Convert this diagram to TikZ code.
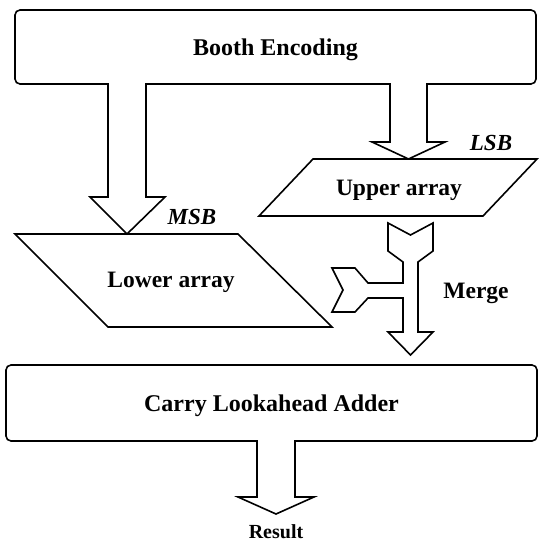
\documentclass[tikz,border=0pt]{standalone}
\usepackage{fontspec}
\setmainfont{Liberation Serif}
\begin{document}
\begin{tikzpicture}[x=1pt,y=-1pt,
  line width=1.6pt, line join=miter,
  blk/.style={draw, fill=white, rounded corners=5pt, inner sep=0pt, text depth=0pt, font=\bfseries\fontsize{24}{26}\selectfont},
  lbl/.style={inner sep=0pt, font=\bfseries\fontsize{23.5}{25}\selectfont},
  ilbl/.style={inner sep=0pt, font=\bfseries\itshape\fontsize{23}{25}\selectfont},
  rlbl/.style={inner sep=0pt, font=\bfseries\fontsize{20}{22}\selectfont},
  shape line/.style={draw, fill=white},
  gap fill/.style={fill=white, draw=none}
]
\fill[white] (0,0) rectangle (538,545);
\useasboundingbox (0,0) rectangle (538,545);

% Boxes
\node[blk, minimum width=521pt, minimum height=74pt] (booth) at (275.5,47) {Booth Encoding};
\node[blk, minimum width=531pt, minimum height=76pt] (cla) at (271.5,403) {Carry Lookahead Adder};

% Parallelograms
\path[shape line] (313,159) -- (537,159) -- (483,216) -- (259,216) -- cycle;
\node[lbl] (upper) at (399,190) {Upper array};
\path[shape line] (15,234) -- (238,234) -- (332,327) -- (108,327) -- cycle;
\node[lbl] (lower) at (171,282) {Lower array};

% Tip coordinates on the targets
\coordinate (msbtip) at (127,234);
\coordinate (lsbtip) at (408.5,159);
\coordinate (restip) at (276,514);

% MSB block arrow (Booth -> Lower array)
\fill[gap fill] (108.8,81) rectangle (145.2,87);
\draw (108,0 |- booth.south) -- (108,197) -- (90,197) -- (msbtip) -- (165,197) -- (146,197) -- (146,0 |- booth.south);
% LSB block arrow (Booth -> Upper array)
\fill[gap fill] (390.8,81) rectangle (426.2,87);
\draw (390,0 |- booth.south) -- (390,142) -- (372,142) -- (lsbtip) -- (445,142) -- (427,142) -- (427,0 |- booth.south);
% Result block arrow (CLA -> Result)
\fill[gap fill] (257.8,437) rectangle (294.2,444);
\draw (257,0 |- cla.south) -- (257,497) -- (238,497) -- (restip) -- (314,497) -- (295,497) -- (295,0 |- cla.south);

% Merge arrow
\path[shape line] (388,223) -- (410.5,235) -- (433,223) -- (433,251) -- (418,262)
  -- (418,332) -- (433,332) -- (410.5,355) -- (388,332) -- (403,332)
  -- (403,298) -- (368,298) -- (355,312) -- (332,312) -- (343,290)
  -- (332,268) -- (355,268) -- (368,283) -- (403,283)
  -- (403,262) -- (388,251) -- cycle;

% Labels
\node[ilbl] (msb) at (192,217) {MSB};
\node[ilbl] (lsb) at (491,143) {LSB};
\node[lbl] (merge) at (476,293) {Merge};
\node[rlbl] (result) at (276,532) {Result};
\end{tikzpicture}
\end{document}
